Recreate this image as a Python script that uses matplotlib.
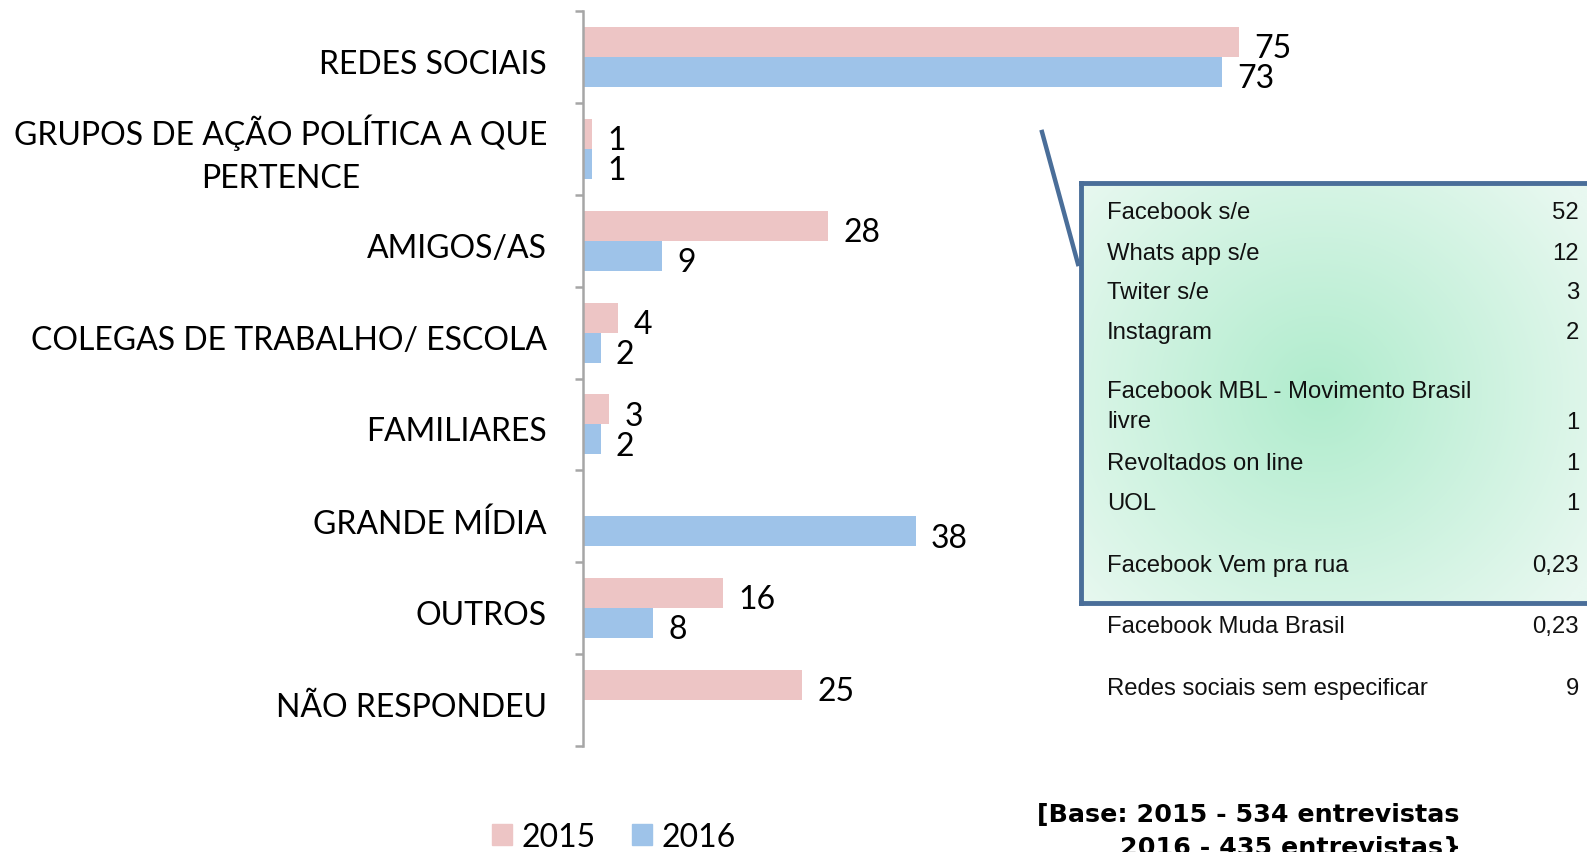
import numpy as np
import matplotlib
matplotlib.use("Agg")
import matplotlib.pyplot as plt
from matplotlib.patches import Patch
from matplotlib.transforms import ScaledTranslation

# ---------------- data ----------------
categories = ["REDES SOCIAIS", "GRUPOS DE AÇÃO POLÍTICA A QUE\nPERTENCE", "AMIGOS/AS",
              "COLEGAS DE TRABALHO/ ESCOLA", "FAMILIARES", "GRANDE MÍDIA", "OUTROS",
              "NÃO RESPONDEU"]
values_2015 = [75, 1, 28, 4, 3, np.nan, 16, 25]
values_2016 = [73, 1, 9, 2, 2, 38, 8, np.nan]
series_labels = ["2015", "2016"]

box_items = ["Facebook s/e", "Whats app s/e", "Twiter s/e", "Instagram",
             "Facebook MBL - Movimento Brasil\nlivre", "Revoltados on line", "UOL",
             "Facebook Vem pra rua", "Facebook Muda Brasil",
             "Redes sociais sem especificar"]
box_values = ["52", "12", "3", "2", "1", "1", "1", "0,23", "0,23", "9"]

base_note = ["[Base: 2015 - 534 entrevistas", "2016 - 435 entrevistas}"]

# ---------------- styles ----------------
W, H = 1587, 853
C2015 = "#EDC5C5"
C2016 = "#9EC3E9"
CAT_FONT = ["Lato", "DejaVu Sans"]
CAT_SIZE = 23

def fx(px):
    return px / W

def fy(py):
    return 1 - py / H

fig = plt.figure(figsize=(W / 100, H / 100), dpi=100)
fig.patch.set_facecolor("white")

ax_left, ax_right = 583, 1572
ax_top, ax_bottom = 12, 747
ax = fig.add_axes([fx(ax_left), fy(ax_bottom), fx(ax_right - ax_left), (ax_bottom - ax_top) / H])

n = len(categories)
y = np.arange(n)
bh = 0.326
ax.barh(y - bh / 2, values_2015, height=bh, color=C2015, label=series_labels[0])
ax.barh(y + bh / 2, values_2016, height=bh, color=C2016, label=series_labels[1])

ax.set_ylim(n - 0.5, -0.5)
ax.set_xlim(0, (ax_right - ax_left) / 8.75)

for vals, off in ((values_2015, -bh / 2), (values_2016, bh / 2)):
    for i, v in enumerate(vals):
        if np.isnan(v):
            continue
        ax.annotate(f"{v:g}", xy=(v, i + off), xytext=(11, -4.5), textcoords="offset points",
                    ha="left", va="center", fontsize=CAT_SIZE, family=CAT_FONT, color="black")

for s in ("top", "right", "bottom"):
    ax.spines[s].set_visible(False)
ax.spines["left"].set_color("#A6A6A6")
ax.spines["left"].set_linewidth(1.8)
ax.set_xticks([])
ax.set_yticks(y)
ax.set_yticklabels(categories)
ax.set_yticks(np.arange(-0.5, n, 1.0), minor=True)
ax.tick_params(axis="y", which="major", length=0, pad=26)
ax.tick_params(axis="y", which="minor", length=6, width=1.8, color="#A6A6A6", direction="out")
for lab in ax.get_yticklabels():
    lab.set_fontsize(CAT_SIZE)
    lab.set_family(CAT_FONT)
    lab.set_multialignment("center")
    lab.set_linespacing(1.55)
    dy = 5 if "\n" in lab.get_text() else -4
    lab.set_transform(lab.get_transform() + ScaledTranslation(0, dy / 100, fig.dpi_scale_trans))

# legend
fig.legend(handles=[Patch(color=C2015, label="2015"), Patch(color=C2016, label="2016")],
           loc="center", bbox_to_anchor=(fx(614), fy(838)), ncol=2, frameon=False,
           prop={"family": CAT_FONT, "size": CAT_SIZE}, handlelength=0.62, handleheight=0.62,
           handletextpad=0.3, columnspacing=1.15)

# callout line
fig.add_artist(plt.Line2D([fx(1042), fx(1078)], [fy(133), fy(265)], color="#4A6E99", lw=3.2))

# inset box with radial gradient
bx0, bx1, by0, by1 = 1081, 1600, 184, 604
bax = fig.add_axes([fx(bx0), fy(by1), fx(bx1 - bx0), (by1 - by0) / H])
gx = np.linspace(0, 1, 300)
gy = np.linspace(0, 1, 300)
GX, GY = np.meshgrid(gx, gy)
cx, cy = (1320 - bx0) / (bx1 - bx0), (395 - by0) / (by1 - by0)
r = np.sqrt(((GX - cx) * 1.2) ** 2 + ((GY - cy) * 1.0) ** 2)
r = np.clip(r / 0.75, 0, 1)
c_in = np.array([176, 236, 205]) / 255
c_out = np.array([232, 248, 240]) / 255
img = c_in[None, None, :] * (1 - r[..., None]) + c_out[None, None, :] * r[..., None]
bax.imshow(img, extent=[0, 1, 1, 0], aspect="auto", interpolation="bilinear")
bax.set_xlim(0, 1)
bax.set_ylim(1, 0)
bax.set_xticks([])
bax.set_yticks([])
for s in bax.spines.values():
    s.set_color("#4A6E99")
    s.set_linewidth(3.5)

row_y = [213, 254, 293, 333, 407, 464, 504, 566, 627, 689]
for name, val, ry in zip(box_items, box_values, row_y):
    fig.text(fx(1107), fy(ry), name, ha="left", va="center", fontsize=17.2,
             family="Liberation Sans", color="#111111", linespacing=1.45)
    vy = ry + 16 if "\n" in name else ry
    fig.text(fx(1579), fy(vy), val, ha="right", va="center", fontsize=17.2,
             family="Liberation Sans", color="#111111")

fig.text(fx(1037), fy(822), base_note[0], ha="left", va="baseline", fontsize=18.3,
         family="DejaVu Sans", weight="bold")
fig.text(fx(1120), fy(855), base_note[1], ha="left", va="baseline", fontsize=18.3,
         family="DejaVu Sans", weight="bold")

fig.savefig("out.png", dpi=100, facecolor="white")
